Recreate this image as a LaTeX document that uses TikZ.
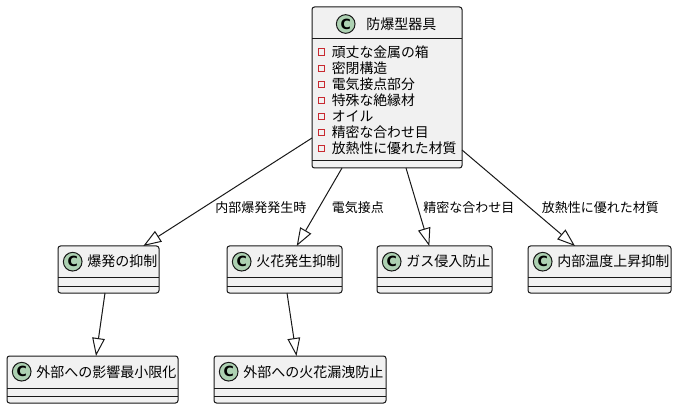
\documentclass[tikz,border=0pt]{standalone}
\usepackage{fontspec}
\setmainfont{Noto Sans CJK JP}
\newfontfamily\cfont{DejaVu Sans}
\usetikzlibrary{arrows.meta,fit,calc}
\definecolor{boxfill}{HTML}{F1F1F1}
\definecolor{boxline}{HTML}{181818}
\definecolor{cgreen}{HTML}{ADD1B2}
\definecolor{privred}{HTML}{C82930}
\tikzset{
  clsbox/.style={draw=boxline, fill=boxfill, line width=0.75pt, rounded corners=1.9pt, inner sep=0pt, outer sep=0pt},
  sepline/.style={draw=boxline, line width=0.75pt},
  cmark/.style={circle, draw=boxline, fill=cgreen, line width=0.75pt, minimum size=14pt, inner sep=0pt, font=\cfont\bfseries\fontsize{10.5pt}{10.5pt}\selectfont},
  clsname/.style={anchor=base west, font=\fontsize{10.5pt}{12pt}\selectfont, inner sep=0pt},
  attr/.style={anchor=base west, font=\fontsize{10.4pt}{12pt}\selectfont, inner sep=0pt},
  edgelbl/.style={anchor=base west, font=\fontsize{9.75pt}{11pt}\selectfont, inner sep=0pt},
  gen/.style={draw=boxline, line width=0.75pt, -{Triangle[open, length=13.5pt, width=9.5pt]}},
  priv/.style={rectangle, draw=privred, line width=0.6pt, minimum size=4.6pt, inner sep=0pt}
}
\newcommand\umlclass[6]{%
  \node[clsbox, fit={(#2,#4) (#3,#5)}] (#1) {};
  \draw[sepline] (#2,#4+32) -- (#3,#4+32);
  \draw[sepline] (#2,#4+40.5) -- (#3,#4+40.5);
  \node[cmark] (#1c) at (#2+14.7,#4+15.7) {C};
  \node[clsname] (#1t) at (#2+29,#4+21) {#6};
}
\begin{document}
\begin{tikzpicture}[x=0.75pt,y=-0.75pt]
\useasboundingbox (0,0) rectangle (677,409);
% main class
\node[clsbox, fit={(312,7) (462,168)}] (main) {};
\draw[sepline] (312,39) -- (462,39);
\draw[sepline] (312,161) -- (462,161);
\node[cmark] (mainc) at (345.7,24) {C};
\node[clsname] (maint) at (366,29.3) {防爆型器具};
\foreach \t [count=\i from 0] in {頑丈な金属の箱,密閉構造,電気接点部分,特殊な絶縁材,オイル,精密な合わせ目,放熱性に優れた材質}{
  \node[priv] (p\i) at (321.7,51.9+16.1*\i) {};
  \node[attr] (a\i) at (331.5,57.1+16.1*\i) {\t};
}
% children
\umlclass{b1}{58}{159}{246}{293}{爆発の抑制}
\umlclass{b2}{227}{342}{246}{293}{火花発生抑制}
\umlclass{b3}{377}{492}{246}{293}{ガス侵入防止}
\umlclass{b4}{528}{671}{246}{293}{内部温度上昇抑制}
\umlclass{c1}{7}{178}{356}{403}{外部への影響最小限化}
\umlclass{c2}{214}{386}{356}{403}{外部への火花漏洩防止}
% edges
\draw[gen] ($(main.south west)+(0,-30)$) -- ($(b1.north west)+(85.3,0)$);
\draw[gen] ($(main.south west)+(30,0)$) -- ($(b2.north west)+(69.7,0)$);
\draw[gen] ($(main.south west)+(94,0)$) -- ($(b3.north west)+(52.3,0)$);
\draw[gen] ($(main.south east)+(0,-18)$) -- ($(b4.north west)+(47,0)$);
\draw[gen] ($(b1.south west)+(47,0)$) -- ($(c1.north west)+(89,0)$);
\draw[gen] ($(b2.south west)+(60,0)$) -- ($(c2.north west)+(82.5,0)$);
% edge labels
\node[edgelbl] (l1) at (215,212.5) {内部爆発発生時};
\node[edgelbl] (l2) at (331.5,212.5) {電気接点};
\node[edgelbl] (l3) at (423,212.5) {精密な合わせ目};
\node[edgelbl] (l4) at (541.5,212.5) {放熱性に優れた材質};
\end{tikzpicture}
\end{document}
